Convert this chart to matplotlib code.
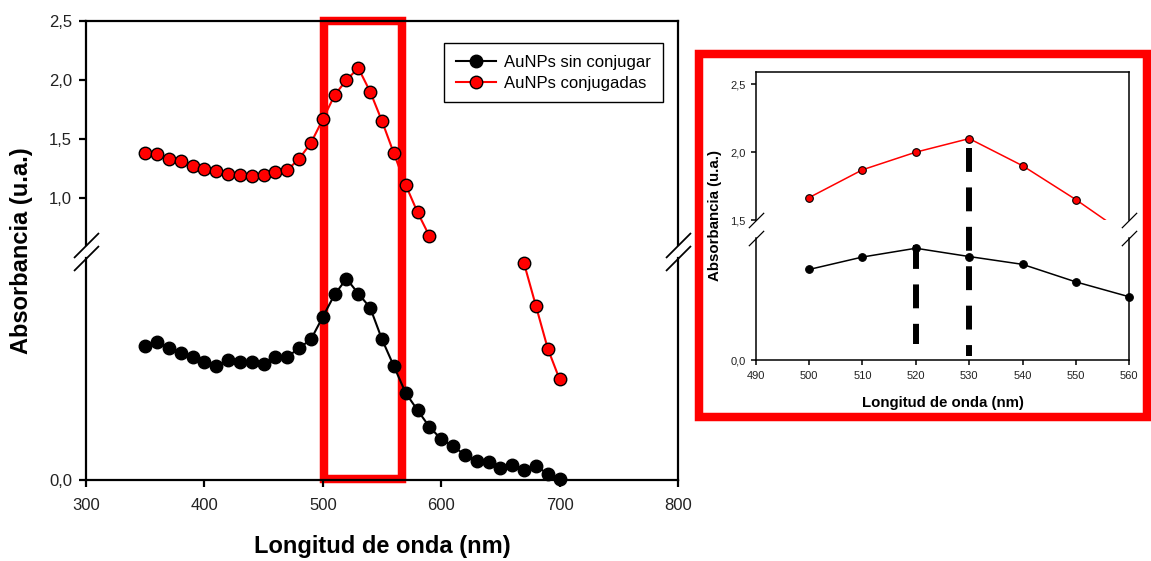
import matplotlib
matplotlib.use('Agg')
import matplotlib.pyplot as plt
from matplotlib.patches import Rectangle
from matplotlib.ticker import FuncFormatter
from matplotlib.transforms import blended_transform_factory

plt.rcParams['font.family'] = ['Liberation Sans', 'DejaVu Sans']

# Wavelength (nm) and absorbance
wl_black = [350, 360, 370, 380, 390, 400, 410, 420, 430, 440, 450, 460,
            470, 480, 490, 500, 510, 520, 530, 540, 550, 560, 570, 580,
            590, 600, 610, 620, 630, 640, 650, 660, 670, 680, 690, 700]
abs_black = [0.305, 0.314, 0.301, 0.289, 0.279, 0.269, 0.259, 0.274, 0.269,
             0.269, 0.264, 0.280, 0.280, 0.300, 0.320, 0.371, 0.422, 0.458,
             0.424, 0.392, 0.320, 0.259, 0.198, 0.159, 0.121, 0.093, 0.077,
             0.057, 0.043, 0.042, 0.027, 0.034, 0.023, 0.032, 0.014, 0.002]

# conjugated: upper part of the broken axis and the tail below the break
wl_red_a = [350, 360, 370, 380, 390, 400, 410, 420, 430, 440, 450, 460, 470,
            480, 490, 500, 510, 520, 530, 540, 550, 560, 570, 580, 590]
abs_red_a = [1.38, 1.37, 1.33, 1.31, 1.27, 1.245, 1.225, 1.20, 1.19, 1.187,
             1.19, 1.216, 1.235, 1.33, 1.465, 1.665, 1.87, 2.0, 2.10, 1.90,
             1.65, 1.377, 1.108, 0.876, 0.675]
wl_red_b = [670, 680, 690, 700]
abs_red_b = [0.4925, 0.396, 0.299, 0.229]

main_xticks = [300, 400, 500, 600, 700, 800]
inset_xticks = [490, 500, 510, 520, 530, 540, 550, 560]

W, H = 1151, 561


def fbox(l, t, r, b):
    # pixel box -> figure fraction rect
    return [l / W, 1 - b / H, (r - l) / W, (b - t) / H]


comma = FuncFormatter(lambda v, _: f'{v:.1f}'.replace('.', ','))


def style_pair(ax_top, ax_bot, lw, tsize, tlen, ypad, xpad, mark):
    for ax in (ax_top, ax_bot):
        ax.set_facecolor('none')
        for s in ax.spines.values():
            s.set_linewidth(lw)
        ax.yaxis.set_major_formatter(comma)
        ax.tick_params(direction='out', width=lw, length=tlen, labelsize=tsize,
                       right=False, top=False, labelcolor='#222222')
        ax.tick_params(axis='y', pad=ypad)
        ax.tick_params(axis='x', pad=xpad)
    ax_top.spines['bottom'].set_visible(False)
    ax_bot.spines['top'].set_visible(False)
    ax_top.tick_params(axis='x', bottom=False, labelbottom=False)
    # break marks on both vertical spines
    for ax, y in ((ax_top, 0), (ax_bot, 1)):
        ax.plot([0, 1], [y, y], transform=ax.transAxes, marker=[(-1, -1), (1, 1)],
                markersize=mark, linestyle='none', color='k', mec='k', mew=lw * 0.8,
                clip_on=False)


fig = plt.figure(figsize=(11.51, 5.61), dpi=100)

# ---- main chart ----
ax_u = fig.add_axes(fbox(86, 21, 678, 245))
ax_l = fig.add_axes(fbox(86, 258, 678, 480))
ax_u.set_xlim(300, 800)
ax_l.set_xlim(300, 800)
ax_u.set_ylim(0.598, 2.5)
ax_l.set_ylim(0, 0.505)
ax_u.set_yticks([1.0, 1.5, 2.0, 2.5])
ax_l.set_yticks([0.0])
ax_l.set_xticks(main_xticks)
style_pair(ax_u, ax_l, 1.6, 12, 5, 5, 8, 18)

lb, = ax_l.plot(wl_black, abs_black, color='black', lw=1.5, marker='o', ms=9,
                mfc='black', mec='black', mew=1, clip_on=False, zorder=3)
lr, = ax_u.plot(wl_red_a, abs_red_a, color='red', lw=1.5, marker='o', ms=9,
                mfc='red', mec='black', mew=1, zorder=3)
ax_l.plot(wl_red_b, abs_red_b, color='red', lw=1.5, marker='o', ms=9,
          mfc='red', mec='black', mew=1, clip_on=False, zorder=3)

fig.legend(handles=[lb, lr], labels=['AuNPs sin conjugar', 'AuNPs conjugadas'],
           loc='upper left', bbox_to_anchor=(444 / W, 1 - 43.3 / H),
           borderaxespad=0, fontsize=12, frameon=True, fancybox=False,
           edgecolor='black', framealpha=1, handlelength=2.4, handletextpad=0.5,
           borderpad=0.7, labelspacing=0.35).get_frame().set_linewidth(1.0)

fig.text(22 / W, 1 - 250.5 / H, 'Absorbancia (u.a.)', rotation=90, ha='center',
         va='center', fontsize=17, fontweight='bold')
fig.text(382 / W, 1 - 546 / H, 'Longitud de onda (nm)', ha='center', va='center',
         fontsize=17, fontweight='bold')

# red highlight box over the plasmon band
tr = blended_transform_factory(ax_l.transData, fig.transFigure)
fig.add_artist(Rectangle((501, 1 - 479 / H), 66, (479 - 21.2) / H, transform=tr,
                         fill=False, ec='red', lw=6.1, zorder=-1))

# ---- zoomed inset ----
ax_iu = fig.add_axes(fbox(755.7, 71.7, 1129.3, 220))
ax_il = fig.add_axes(fbox(755.7, 238, 1129.3, 360))
ax_iu.set_xlim(490, 560)
ax_il.set_xlim(490, 560)
ax_iu.set_ylim(1.5, 2.593)
ax_il.set_ylim(0, 0.5)
ax_iu.set_yticks([1.5, 2.0, 2.5])
ax_il.set_yticks([0.0])
ax_il.set_xticks(inset_xticks)
style_pair(ax_iu, ax_il, 1.1, 8, 3.6, 3.5, 4.5, 11)

i0 = wl_red_a.index(500)
ax_iu.plot(wl_red_a[i0:i0 + 7], abs_red_a[i0:i0 + 7], color='red', lw=1.1,
           marker='o', ms=5.5, mfc='red', mec='black', mew=0.8, zorder=3)
j0 = wl_black.index(500)
ax_il.plot(wl_black[j0:j0 + 7], abs_black[j0:j0 + 7], color='black', lw=1.1,
           marker='o', ms=5.5, mfc='black', mec='black', mew=0.8, clip_on=False,
           zorder=3)

# dashed markers at the two band maxima
dash = (0, (4.0, 2.6))
ax_il.plot([520, 520], [0.47, 0.065], color='black', lw=4.3, linestyle=dash,
           dash_capstyle='butt', clip_on=False, zorder=5)
# the 530 line starts in the upper inset, so map its top into lower-inset data
top_px = ax_iu.transData.transform((530, 2.03))
top_y = ax_il.transData.inverted().transform(top_px)[1]
ax_il.plot([530, 530], [top_y, 0.016], color='black', lw=4.3, linestyle=dash,
           dash_capstyle='butt', clip_on=False, zorder=5)

fig.text(715 / W, 1 - 215 / H, 'Absorbancia (u.a.)', rotation=90, ha='center',
         va='center', fontsize=10.8, fontweight='bold')
fig.text(942.5 / W, 1 - 403 / H, 'Longitud de onda (nm)', ha='center', va='center',
         fontsize=10.8, fontweight='bold')

fig.add_artist(Rectangle((699 / W, 1 - 416.5 / H), (1147 - 699) / W, (416.5 - 53.8) / H,
                         transform=fig.transFigure, fill=False, ec='red', lw=6.1,
                         zorder=-1))

fig.savefig('out.png', dpi=100)
